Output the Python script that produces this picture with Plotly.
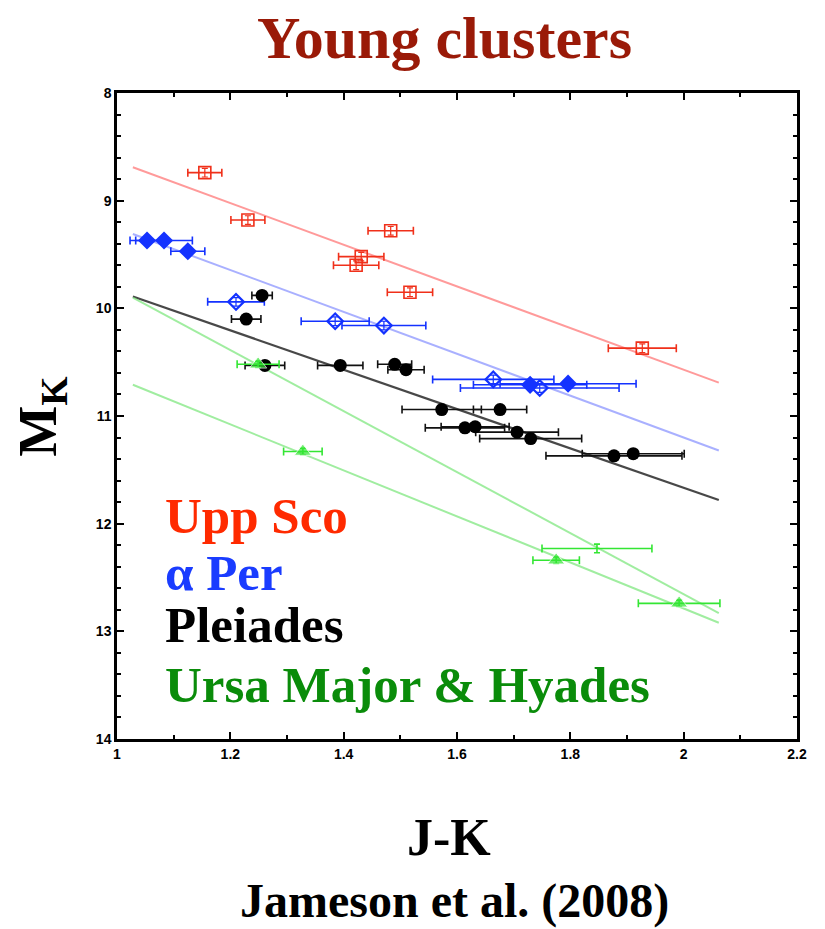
import plotly.graph_objects as go

# --- Upper Scorpius ---
upsco_jk = [1.155, 1.231, 1.483, 1.431, 1.422, 1.517, 1.927]
upsco_mk = [8.74, 9.18, 9.28, 9.52, 9.60, 9.85, 10.37]
upsco_jk_err = [0.03, 0.03, 0.04, 0.04, 0.04, 0.04, 0.06]
upsco_mk_err = [0.04, 0.04, 0.04, 0.04, 0.04, 0.04, 0.04]

# --- alpha Persei (filled and open symbols) ---
aper_jk = [1.053, 1.083, 1.125, 1.729, 1.796]
aper_mk = [9.37, 9.37, 9.47, 10.71, 10.70]
aper_jk_err = [0.03, 0.05, 0.03, 0.10, 0.12]
aper_open_jk = [1.210, 1.385, 1.471, 1.664, 1.746]
aper_open_mk = [9.94, 10.12, 10.16, 10.66, 10.74]
aper_open_jk_err = [0.05, 0.06, 0.074, 0.107, 0.14]

# --- Pleiades ---
pleiades_jk = [1.256, 1.228, 1.261, 1.394, 1.490, 1.510, 1.573, 1.676,
               1.614, 1.632, 1.706, 1.730, 1.877, 1.911]
pleiades_mk = [9.88, 10.10, 10.53, 10.53, 10.52, 10.57, 10.94, 10.94,
               11.11, 11.10, 11.15, 11.21, 11.37, 11.35]
pleiades_jk_err = [0.018, 0.026, 0.035, 0.04, 0.03, 0.032, 0.07, 0.047,
                   0.07, 0.06, 0.073, 0.09, 0.12, 0.09]

# --- Ursa Major & Hyades ---
hyades_jk = [1.249, 1.328, 1.775, 1.847, 1.992]
hyades_mk = [10.52, 11.33, 12.34, 12.23, 12.74]
hyades_jk_err = [0.037, 0.034, 0.041, 0.097, 0.072]
hyades_mk_err = [0.03, 0.03, 0.03, 0.04, 0.03]
hyades_has_symbol = [True, True, True, False, True]

# --- linear sequences ---
fit_jk = [1.028, 2.062]
upsco_fit = [8.69, 10.69]
aper_fit = [9.31, 11.32]
pleiades_fit = [9.89, 11.78]
hyades_fit_a = [9.90, 12.83]
hyades_fit_b = [10.71, 12.92]

# axis ticks
x_ticks = [1, 1.2, 1.4, 1.6, 1.8, 2, 2.2]
x_tick_text = ["1", "1.2", "1.4", "1.6", "1.8", "2", "2.2"]
y_ticks = [8, 9, 10, 11, 12, 13, 14]

RED = "#f0301a"
BLUE = "#1432ff"
BLACK = "#000000"
GREEN = "#33e633"

fig = go.Figure()

# sequence lines
for ys, col, w in [(upsco_fit, "rgba(255,120,120,0.75)", 2),
                   (aper_fit, "rgba(140,150,255,0.75)", 2),
                   (pleiades_fit, "rgba(40,40,40,0.85)", 2.2),
                   (hyades_fit_a, "rgba(120,230,120,0.7)", 2),
                   (hyades_fit_b, "rgba(120,230,120,0.7)", 2)]:
    fig.add_trace(go.Scatter(x=fit_jk, y=ys, mode="lines",
                             line=dict(color=col, width=w),
                             hoverinfo="skip", showlegend=False))


def err(arr, col, w=4, th=1.6):
    return dict(type="data", array=arr, color=col, thickness=th, width=w)


fig.add_trace(go.Scatter(
    x=upsco_jk, y=upsco_mk, mode="markers",
    marker=dict(symbol="square-open", size=12, color=RED, line=dict(width=1.6, color=RED)),
    error_x=err(upsco_jk_err, RED), error_y=err(upsco_mk_err, RED, w=3, th=1.2),
    name="Upp Sco", showlegend=False))

fig.add_trace(go.Scatter(
    x=aper_open_jk, y=aper_open_mk, mode="markers",
    marker=dict(symbol="diamond-open", size=12, color=BLUE, line=dict(width=2.2, color=BLUE)),
    error_x=err(aper_open_jk_err, BLUE), error_y=err([0.04] * len(aper_open_jk), BLUE, w=3, th=1.2),
    name="α Per", showlegend=False))

fig.add_trace(go.Scatter(
    x=aper_jk, y=aper_mk, mode="markers",
    marker=dict(symbol="diamond", size=14, color=BLUE),
    error_x=err(aper_jk_err, BLUE),
    name="α Per", showlegend=False))

fig.add_trace(go.Scatter(
    x=pleiades_jk, y=pleiades_mk, mode="markers",
    marker=dict(symbol="circle", size=13, color=BLACK),
    error_x=err(pleiades_jk_err, "#111111"),
    name="Pleiades", showlegend=False))

fig.add_trace(go.Scatter(
    x=hyades_jk, y=hyades_mk, mode="markers",
    marker=dict(symbol="triangle-up", color=GREEN,
                size=[15 if s else 0 for s in hyades_has_symbol]),
    error_x=err(hyades_jk_err, GREEN), error_y=err(hyades_mk_err, GREEN, w=3, th=1.6),
    name="Ursa Major & Hyades", showlegend=False))

SERIF = "Liberation Serif, Times New Roman, serif"
TICKFONT = dict(family="Liberation Sans, Arial, sans-serif", size=14, color="black", weight="bold")

axis_common = dict(
    showline=True, linecolor="black", linewidth=2.5, mirror="ticks",
    ticks="inside", ticklen=7, tickwidth=1.5, tickcolor="black",
    showgrid=False, zeroline=False, tickfont=TICKFONT,
)

fig.update_xaxes(range=[1, 2.2], tickvals=x_ticks, ticktext=x_tick_text,
                 minor=dict(dtick=0.1, ticks="inside", ticklen=4, tickcolor="black", showgrid=False),
                 **axis_common)
fig.update_yaxes(range=[14, 8], tickvals=y_ticks,
                 minor=dict(dtick=0.2, ticks="inside", ticklen=4, tickcolor="black", showgrid=False),
                 **axis_common)


def label(text, x, y, size, color, **kw):
    base = dict(text=text, x=x, y=y, showarrow=False,
                font=dict(family=SERIF, size=size, color=color),
                xanchor="center", yanchor="middle")
    base.update(kw)
    return base


annotations = [
    label("<b>Young clusters</b>", 0.482, 1.085, 60, "#9a1a08", xref="paper", yref="paper"),
    label("<b>J-K</b>", 0.488, -0.153, 52, "black", xref="paper", yref="paper"),
    label("<b>Jameson et al. (2008)</b>", 0.496, -0.251, 48, "black", xref="paper", yref="paper"),
    label("<b>M<sub>K</sub></b>", -0.112, 0.50, 54, "black", xref="paper", yref="paper",
          textangle=-90),
    label("<b>Upp Sco</b>", 1.082, 11.93, 51, "#ff2a00", xref="x", yref="y", xanchor="left"),
    label("<b>α Per</b>", 1.082, 12.46, 51, "#1a3cff", xref="x", yref="y", xanchor="left"),
    label("<b>Pleiades</b>", 1.082, 12.94, 51, "#000000", xref="x", yref="y", xanchor="left"),
    label("<b>Ursa Major &amp; Hyades</b>", 1.082, 13.50, 51, "#0a8c0a", xref="x", yref="y",
          xanchor="left"),
]

fig.update_layout(
    width=825, height=929,
    margin=dict(l=117, r=28, t=93, b=190),
    paper_bgcolor="white", plot_bgcolor="white",
    annotations=annotations, showlegend=False,
)

fig.write_html("out.html")
